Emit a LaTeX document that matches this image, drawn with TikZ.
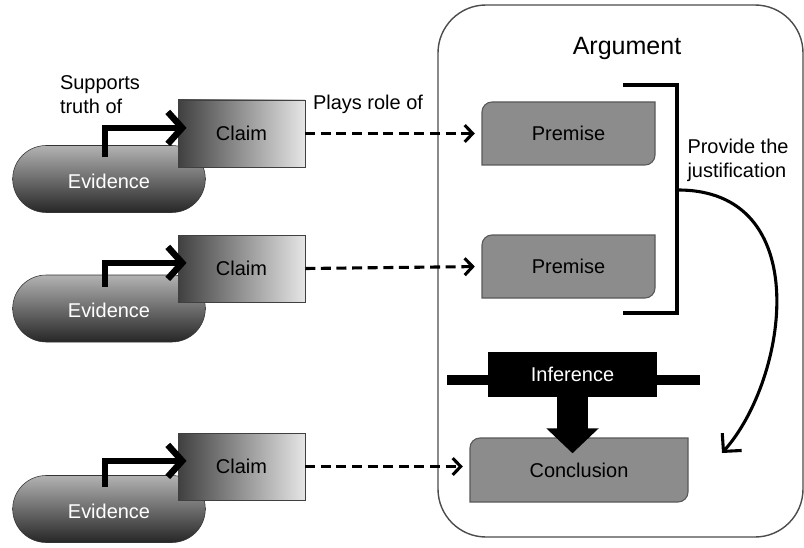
\documentclass[tikz,border=0pt]{standalone}
\usepackage{fontspec}
\setmainfont{Liberation Sans}
\usetikzlibrary{arrows.meta,positioning,backgrounds,shapes.misc,calc}
\newcommand{\txtfont}{\fontsize{14.2}{17}\selectfont}
\tikzset{
	evid/.style={rounded rectangle, draw=black!80, top color=black!30, bottom color=black!85,
		minimum width=5.05cm, minimum height=1.675cm, text=white, font=\txtfont,
		text height=0.55cm, text depth=0.08cm},
	claimbox/.style={rectangle, draw=black!75, left color=black!75, right color=black!10,
		minimum width=3.175cm, minimum height=1.675cm, font=\txtfont},
	prem/.style={minimum width=4.325cm, minimum height=1.575cm, outer sep=0, font=\txtfont},
	premfill/.style={fill=black!45, draw=black!65, line width=0.8pt},
	elbow/.style={line width=4.6pt, -{Straight Barb[length=0.36cm,width=0.8cm]}, shorten >=-0.22cm},
	role/.style={line width=2.2pt, dash pattern=on 0.25cm off 0.14cm,
		-{Straight Barb[length=0.2cm,width=0.42cm]}, shorten >=0.18cm},
	bracket/.style={line width=2.8pt},
	curvearr/.style={line width=2.2pt, -{Straight Barb[length=0.32cm,width=0.65cm]}}
}
% grey box with two rounded corners (top left, bottom right)
\newcommand{\premshape}[1]{\filldraw[premfill] ([yshift=-2.5mm]#1.north west) arc (180:90:2.5mm)
	-- (#1.north east) -- ([yshift=2.5mm]#1.south east) arc (0:-90:2.5mm) -- (#1.south west) -- cycle;}

\begin{document}
\begin{tikzpicture}
\useasboundingbox (0,0) rectangle (20.1,13.675);

% the argument frame
\node[draw=black!70, line width=1pt, rounded corners=1.2cm, minimum width=9.125cm,
	minimum height=13.3cm] (arg) at (15.5125,6.9) {};
\node[font=\fontsize{17.8}{20}\selectfont] (argt) at (15.675,12.475) {Argument};

% evidence and claims
\node[evid] (ev1) at (2.725,9.2) {Evidence};
\node[claimbox] (c1) at (6.0375,10.3375) {Claim};
\node[evid] (ev2) at (2.725,5.9625) {Evidence};
\node[claimbox] (c2) at (6.0375,6.9625) {Claim};
\node[evid] (ev3) at (2.725,0.95) {Evidence};
\node[claimbox] (c3) at (6.0375,2.0125) {Claim};

\draw[elbow] ([shift={(-0.1,-0.3)}]ev1.north) |- ([yshift=1.4mm]c1.west);
\draw[elbow] ([shift={(-0.1,-0.3)}]ev2.north) |- ([yshift=1.4mm]c2.west);
\draw[elbow] ([shift={(-0.1,-0.3)}]ev3.north) |- ([yshift=1.4mm]c3.west);

\node[font=\txtfont, align=left] (supp) at (2.5,11.3) {Supports\\truth of};

% premises and conclusion
\node[prem] (p1) at (14.2125,10.3375) {Premise};
\node[prem] (p2) at (14.2125,7.0125) {Premise};
\node[prem, minimum width=5.45cm, minimum height=1.6cm] (conc) at (14.475,1.925) {Conclusion};
\begin{scope}[on background layer]
\premshape{p1}
\premshape{p2}
\premshape{conc}
\end{scope}

\draw[role] (c1.east) -- (p1.west);
\draw[role] (c2.east) -- (p2.west);
\draw[role] (c3.east) -- (c3.east -| conc.west);
\node[font=\txtfont] (plays) at (9.2,11.075) {Plays role of};

% justification bracket
\draw[bracket] (15.575,11.55) -| (16.925,5.85) -- (15.575,5.85);
\coordinate (jmid) at (16.925,8.925);
\coordinate (jend) at (18.05,2.35);
\node[font=\txtfont, align=left] (just) at (18.45,9.675) {Provide the\\justification};
\draw[curvearr] (jmid) .. controls (20.4,8.95) and (19.7,4.2) .. (jend);

% inference
\draw[line width=0.25cm] (11.175,4.175) -- (17.5,4.175);
\node[fill=black, text=white, minimum width=4.225cm, minimum height=1.125cm, font=\txtfont] (inf) at (14.3125,4.3125) {Inference};
\draw[line width=0.775cm, -{Triangle[width=1.275cm,length=0.625cm]}] (inf.south) -- ([yshift=-1.4cm]inf.south);
\end{tikzpicture}
\end{document}
